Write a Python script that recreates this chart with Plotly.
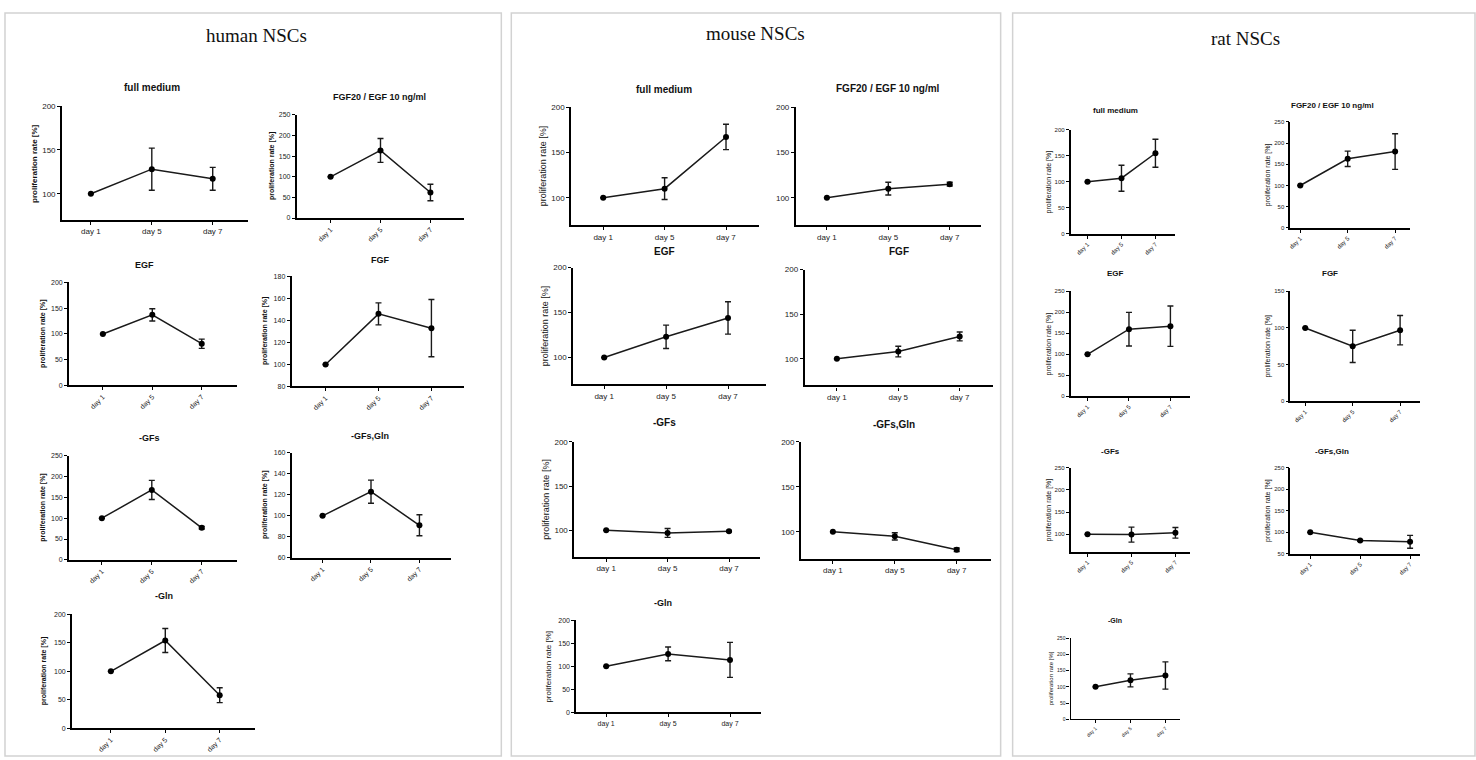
import plotly.graph_objects as go

W, H = 1476, 760

# ---------------- data ----------------
days = ["day 1", "day 5", "day 7"]
x_idx = [0, 1, 2]

panel_titles = ["human NSCs", "mouse NSCs", "rat NSCs"]
y_label = "proliferation rate [%]"

# human NSCs
human_full_medium = [100, 128, 117]
human_full_medium_sd = [0, 24, 13]
human_fgf20_egf = [100, 164, 62]
human_fgf20_egf_sd = [0, 29, 20]
human_egf = [100, 137, 81]
human_egf_sd = [0, 12, 9]
human_fgf = [100, 146, 133]
human_fgf_sd = [0, 10, 26]
human_gfs = [100, 168, 77]
human_gfs_sd = [0, 23, 3]
human_gfs_gln = [100, 123, 91]
human_gfs_gln_sd = [0, 11, 10]
human_gln = [100, 154, 58]
human_gln_sd = [0, 21, 13]

# mouse NSCs
mouse_full_medium = [100, 110, 167]
mouse_full_medium_sd = [0, 12, 14]
mouse_fgf20_egf = [100, 110, 115]
mouse_fgf20_egf_sd = [0, 7, 2]
mouse_egf = [100, 123, 144]
mouse_egf_sd = [0, 13, 18]
mouse_fgf = [100, 108, 125]
mouse_fgf_sd = [0, 6, 5]
mouse_gfs = [100, 97, 99]
mouse_gfs_sd = [0, 5, 1]
mouse_gfs_gln = [100, 95, 80]
mouse_gfs_gln_sd = [0, 4, 2]
mouse_gln = [100, 127, 114]
mouse_gln_sd = [0, 15, 38]

# rat NSCs
rat_full_medium = [100, 107, 155]
rat_full_medium_sd = [0, 25, 27]
rat_fgf20_egf = [100, 163, 180]
rat_fgf20_egf_sd = [0, 18, 42]
rat_egf = [100, 160, 167]
rat_egf_sd = [0, 40, 48]
rat_fgf = [100, 75, 97]
rat_fgf_sd = [0, 22, 20]
rat_gfs = [100, 99, 103]
rat_gfs_sd = [0, 17, 12]
rat_gfs_gln = [100, 81, 78]
rat_gfs_gln_sd = [0, 2, 15]
rat_gln = [100, 120, 135]
rat_gln_sd = [0, 20, 42]

# ---------------- layout of the small charts (pixels) ----------------
# (title, values, sd, ymin, ymax, dtick, ax_l, ax_r, y_top, y_bot, day1_px, day7_px,
#  title_x, title_y, show_ytitle, tickangle, font size, ytitle offset, axis width, bold ytitle)
subplots = [
    ("full medium", human_full_medium, human_full_medium_sd, 70, 200, 50, 60, 246, 103, 218, 89, 211, 150, 84, True, 0, 8, 28, 1.5, True),
    ("FGF20 / EGF 10 ng/ml", human_fgf20_egf, human_fgf20_egf_sd, 0, 250, 50, 295, 463, 112, 216, 329, 429, 378, 94, True, -45, 7, 24, 1.5, True),
    ("EGF", human_egf, human_egf_sd, 0, 200, 50, 67, 235, 281, 385, 101, 200, 143, 263, True, -45, 7, 26, 1.5, True),
    ("FGF", human_fgf, human_fgf_sd, 80, 180, 20, 290, 463, 275, 386, 324, 430, 379, 258, True, -45, 7, 26, 1.8, True),
    ("-GFs", human_gfs, human_gfs_sd, 0, 250, 50, 67, 235, 456, 561, 100, 200, 148, 438, True, -45, 7, 26, 1.5, True),
    ("-GFs,Gln", human_gfs_gln, human_gfs_gln_sd, 60, 160, 20, 290, 450, 453, 559, 321, 418, 368, 436, True, -45, 7, 26, 1.5, True),
    ("-Gln", human_gln, human_gln_sd, 0, 200, 50, 70, 253, 616, 731, 109, 218, 162, 598, True, -45, 7, 28, 1.5, True),

    ("full medium", mouse_full_medium, mouse_full_medium_sd, 70, 200, 50, 570, 758, 104, 223, 602, 725, 663, 86, True, 0, 8, 28, 2, False),
    ("FGF20 / EGF 10 ng/ml", mouse_fgf20_egf, mouse_fgf20_egf_sd, 70, 200, 50, 795, 980, 104, 223, 826, 949, 887, 85, False, 0, 8, 28, 2, False),
    ("EGF", mouse_egf, mouse_egf_sd, 70, 200, 50, 572, 765, 266, 384, 603, 727, 663, 250, True, 0, 8, 28, 2, False),
    ("FGF", mouse_fgf, mouse_fgf_sd, 70, 200, 50, 804, 992, 268, 385, 836, 959, 898, 250, False, 0, 8, 28, 2.2, False),
    ("-GFs", mouse_gfs, mouse_gfs_sd, 70, 200, 50, 573, 759, 442, 558, 605, 728, 663, 422, True, 0, 8, 28, 1.6, False),
    ("-GFs,Gln", mouse_gfs_gln, mouse_gfs_gln_sd, 70, 200, 50, 800, 990, 442, 560, 832, 956, 893, 424, False, 0, 8, 28, 1.6, False),
    ("-Gln", mouse_gln, mouse_gln_sd, 0, 200, 50, 575, 760, 622, 715, 605, 729, 662, 605, True, 0, 7, 28, 1.6, False),

    ("full medium", rat_full_medium, rat_full_medium_sd, 0, 200, 50, 1070, 1175, 127, 232, 1087, 1155, 1115, 107, True, -45, 6, 22, 1.5, False),
    ("FGF20 / EGF 10 ng/ml", rat_fgf20_egf, rat_fgf20_egf_sd, 0, 250, 50, 1290, 1410, 119, 226, 1300, 1395, 1332, 102, True, -45, 6, 22, 1.5, False),
    ("EGF", rat_egf, rat_egf_sd, 0, 250, 50, 1070, 1190, 290, 396, 1087, 1170, 1115, 272, True, -45, 6, 22, 1.5, False),
    ("FGF", rat_fgf, rat_fgf_sd, 0, 150, 50, 1290, 1420, 290, 401, 1305, 1400, 1330, 272, True, -45, 6, 22, 1.5, False),
    ("-GFs", rat_gfs, rat_gfs_sd, 60, 250, 50, 1070, 1190, 468, 553, 1087, 1175, 1110, 452, True, -45, 6, 22, 1.5, False),
    ("-GFs,Gln", rat_gfs_gln, rat_gfs_gln_sd, 50, 250, 50, 1290, 1420, 468, 555, 1310, 1410, 1332, 452, True, -45, 6, 22, 1.5, False),
    ("-Gln", rat_gln, rat_gln_sd, 0, 250, 50, 1070, 1180, 640, 722, 1095, 1165, 1115, 622, True, -45, 5, 20, 1.2, False),
]

panel_boxes = [(3, 500, 9, 759), (510, 1000, 9, 759), (1012, 1475, 9, 759)]
panel_title_pos = [(255, 32), (755, 30), (1245, 35)]

SANS = "Liberation Sans, Arial, sans-serif"
SERIF = "Liberation Serif, Times New Roman, serif"

fig = go.Figure()
layout = dict(
    width=W, height=H, margin=dict(l=0, r=0, t=0, b=0),
    paper_bgcolor="white", plot_bgcolor="rgba(0,0,0,0)",
    showlegend=False, shapes=[], annotations=[],
)

for (x0, x1, y0, y1) in panel_boxes:
    layout["shapes"].append(dict(type="rect", xref="paper", yref="paper",
                                 x0=x0 / W, x1=x1 / W, y0=1 - y1 / H, y1=1 - y0 / H,
                                 line=dict(color="#d2d2d2", width=1.5), fillcolor="rgba(0,0,0,0)",
                                 layer="below"))
for t, (tx, ty) in zip(panel_titles, panel_title_pos):
    layout["annotations"].append(dict(text=t, x=tx / W, y=1 - ty / H, xref="paper", yref="paper",
                                      showarrow=False, xanchor="center", yanchor="middle",
                                      font=dict(family=SERIF, size=19, color="#111")))

for i, s in enumerate(subplots, start=1):
    (title, vals, sd, ymin, ymax, dtick, ax_l, ax_r, y_top, y_bot, d1, d7,
     tx, ty, show_yt, tangle, fs, yt_off, lw, yt_bold) = s
    unit = (d7 - d1) / 2.0
    r0 = -(d1 - ax_l) / unit
    r1 = 2 + (ax_r - d7) / unit
    xa = "xaxis" if i == 1 else f"xaxis{i}"
    ya = "yaxis" if i == 1 else f"yaxis{i}"
    xr = "x" if i == 1 else f"x{i}"
    yr = "y" if i == 1 else f"y{i}"
    layout[xa] = dict(domain=[ax_l / W, ax_r / W], anchor=yr, range=[r0, r1],
                      tickvals=x_idx, ticktext=days, tickangle=tangle,
                      showline=True, linecolor="black", linewidth=lw,
                      ticks="outside", ticklen=3, tickwidth=1.2, tickcolor="black",
                      showgrid=False, zeroline=False, fixedrange=True,
                      tickfont=dict(family=SANS, size=fs, color="#222"))
    layout[ya] = dict(domain=[1 - y_bot / H, 1 - y_top / H], anchor=xr, range=[ymin, ymax],
                      tick0=0, dtick=dtick,
                      showline=True, linecolor="black", linewidth=lw,
                      ticks="outside", ticklen=3, tickwidth=1.2, tickcolor="black",
                      showgrid=False, zeroline=False, fixedrange=True,
                      tickfont=dict(family=SANS, size=fs, color="#222"))
    fig.add_trace(go.Scatter(
        x=x_idx, y=vals, xaxis=xr, yaxis=yr, mode="lines+markers",
        line=dict(color="#1a1a1a", width=1.5),
        marker=dict(size=6, color="black"),
        error_y=dict(type="data", array=sd, visible=True, color="#1a1a1a", thickness=1.4, width=3),
        hoverinfo="skip"))
    layout["annotations"].append(dict(text=f"<b>{title}</b>", x=tx / W, y=1 - ty / H,
                                      xref="paper", yref="paper", showarrow=False,
                                      xanchor="center", yanchor="middle",
                                      font=dict(family=SANS, size=fs + 2, color="#111")))
    if show_yt:
        txt = f"<b>{y_label}</b>" if yt_bold else y_label
        layout["annotations"].append(dict(text=txt, x=(ax_l - yt_off) / W,
                                          y=1 - ((y_top + y_bot) / 2) / H,
                                          xref="paper", yref="paper", showarrow=False,
                                          textangle=-90, xanchor="center", yanchor="middle",
                                          font=dict(family=SANS, size=fs + (0 if yt_bold else 1), color="#111")))

fig.update_layout(**layout)
fig.write_html("out.html", config={"displayModeBar": False},
               post_script="document.body.style.margin='0';document.body.style.overflow='hidden';")
